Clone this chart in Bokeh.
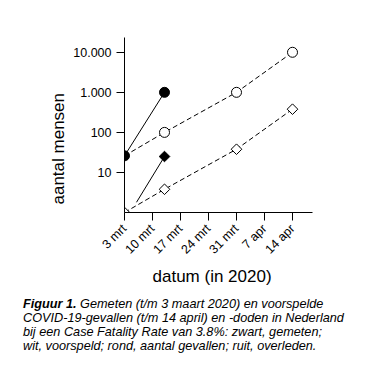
import math
from bokeh.plotting import figure
from bokeh.models import Range1d, FixedTicker, Title, Div
from bokeh.layouts import column
from bokeh.embed import file_html
from bokeh.resources import INLINE

# ---- data (days since 3 maart 2020) ----
tick_days = [0, 7, 14, 21, 28, 35, 42]
tick_labels = ["3 mrt", "10 mrt", "17 mrt", "24 mrt", "31 mrt", "7 apr", "14 apr"]

y_ticks = [10, 100, 1000, 10000]
y_tick_labels = ["10", "100", "1.000", "10.000"]

dag_gemeten = [0, 10]
gevallen_gemeten = [26, 1000]

dag_doden_gemeten = [3, 10]
doden_gemeten = [1.8, 25]

dag_voorspeld = [0, 10, 28, 42]
gevallen_voorspeld = [26, 100, 1000, 10000]
doden_voorspeld = [1, 3.8, 38, 380]

caption_bold = "Figuur 1."
caption_lines = [
    "Gemeten (t/m 3 maart 2020) en voorspelde",
    "COVID-19-gevallen (t/m 14 april) en -doden in Nederland",
    "bij een Case Fatality Rate van 3.8%: zwart, gemeten;",
    "wit, voorspeld; rond, aantal gevallen; ruit, overleden.",
]

FONT = "Liberation Sans"

p = figure(width=368, height=290, output_backend="svg", toolbar_location=None,
           y_axis_type="log",
           x_range=Range1d(0, 47), y_range=Range1d(1, 23400),
           min_border_left=124, min_border_right=56, min_border_top=37,
           min_border_bottom=78)
p.outline_line_color = None
p.xgrid.visible = False
p.ygrid.visible = False
p.background_fill_color = "white"
p.border_fill_color = "white"

# axes
p.xaxis.ticker = FixedTicker(ticks=tick_days)
p.xaxis.major_label_overrides = {d: l for d, l in zip(tick_days, tick_labels)}
p.xaxis.major_label_orientation = math.pi / 4
p.yaxis.ticker = FixedTicker(ticks=y_ticks)
p.yaxis.major_label_overrides = {v: l for v, l in zip(y_ticks, y_tick_labels)}
for ax in (p.xaxis, p.yaxis):
    ax.axis_line_color = "black"
    ax.axis_line_width = 1
    ax.major_tick_line_color = "black"
    ax.major_tick_in = 0
    ax.major_tick_out = 8
    ax.minor_tick_line_color = None
    ax.major_label_text_font = FONT
    ax.major_label_text_font_size = "12.5px"
    ax.major_label_text_color = "black"
p.yaxis.major_label_standoff = 5
p.xaxis.major_label_standoff = 6

# lines
p.line(dag_voorspeld, gevallen_voorspeld, line_color="black", line_width=1, line_dash="5 3")
p.line(dag_voorspeld, doden_voorspeld, line_color="black", line_width=1, line_dash="5 3")
p.line(dag_gemeten, gevallen_gemeten, line_color="black", line_width=1)
p.line(dag_doden_gemeten, doden_gemeten, line_color="black", line_width=1)

# markers
p.scatter(dag_voorspeld[1:], gevallen_voorspeld[1:], marker="circle", size=10,
          fill_color="white", line_color="black", line_width=1)
p.scatter(dag_voorspeld, doden_voorspeld, marker="square", size=7.5, angle=math.pi / 4,
          fill_color="white", line_color="black", line_width=1)
p.scatter(dag_gemeten, gevallen_gemeten, marker="circle", size=10,
          fill_color="black", line_color="black")
p.scatter(dag_doden_gemeten[-1:], doden_gemeten[-1:], marker="square", size=7.5,
          angle=math.pi / 4, fill_color="black", line_color="black")

# axis titles as side-panel titles
p.add_layout(Title(text="aantal mensen", align="left", offset=8,
                   text_font=FONT, text_font_size="17px", text_font_style="normal",
                   text_color="black", standoff=6), "left")
p.add_layout(Title(text="datum (in 2020)", align="left", offset=28,
                   text_font=FONT, text_font_size="17px", text_font_style="normal",
                   text_color="black", standoff=0, text_line_height=1.0), "below")

caption_html = (
    f"<b>{caption_bold}</b> {caption_lines[0]}<br>" + "<br>".join(caption_lines[1:])
)
div = Div(text=caption_html, width=368, height=76, margin=(0, 0, 0, 0),
          styles={"font-family": FONT, "font-size": "12.7px", "font-style": "italic",
                  "line-height": "14.2px", "color": "black", "padding-left": "23px",
                  "padding-top": "6.5px"})

layout = column(p, div, spacing=0)
open("out.html", "w").write(file_html(layout, INLINE))
